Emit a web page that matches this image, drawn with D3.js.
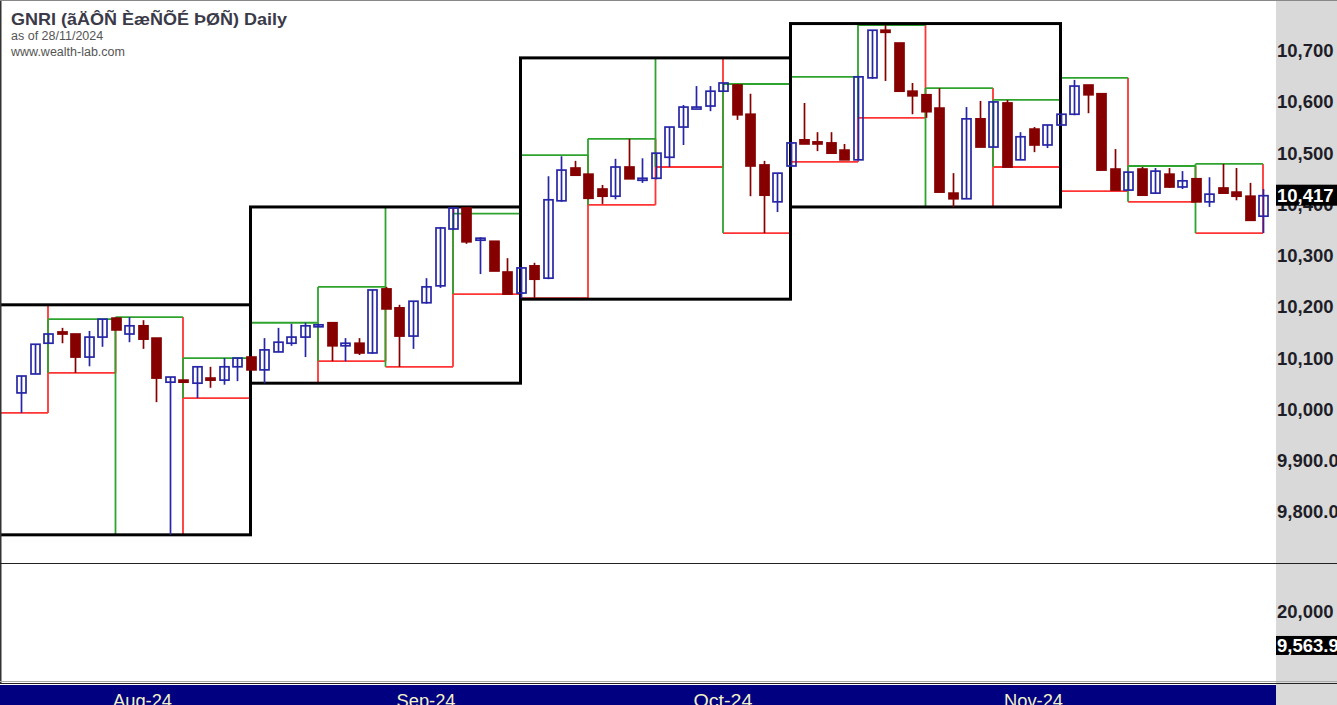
<!DOCTYPE html>
<html>
<head>
<meta charset="utf-8">
<script src="https://cdn.jsdelivr.net/npm/d3@7"></script>
<style>
  html, body { margin: 0; padding: 0; background: #ffffff; }
  svg { display: block; }
</style>
</head>
<body>
<div id="chart"></div>
<script>
// ---------------- DATA ----------------
const titleText = "GNRI (ãÄÔÑ ÈæÑÕÉ ÞØÑ) Daily";
const asOfText = "as of 28/11/2024";
const siteText = "www.wealth-lab.com";

// daily bars (index 0 .. 92, last bar = 28/11/2024)
const open  = [10032,10069,10129,10151,10147,10102,10141,10178,10147,10163,
               10139,10053,10057,10051,10061,10057,10083,10102,10077,10112,
               10129,10141,10162,10169,10124,10129,10110,10235,10198,10143,
               10208,10241,10352,10393,10332,10328,10268,10227,10280,10256,
               10407,10471,10459,10430,10416,10473,10449,10451,10492,10551,
               10588,10592,10621,10633,10576,10477,10405,10475,10526,10522,
               10520,10506,10487,10647,10740,10715,10621,10614,10588,10422,
               10411,10567,10512,10598,10487,10547,10516,10555,10576,10633,
               10616,10469,10428,10469,10422,10459,10434,10450,10405,10432,
               10424,10416,10377];
const high  = [10065,10127,10147,10159,10147,10153,10176,10178,10180,10174,
               10139,10063,10057,10083,10083,10100,10100,10102,10139,10159,
               10167,10169,10165,10169,10139,10139,10233,10239,10204,10211,
               10256,10356,10395,10395,10336,10328,10295,10276,10286,10455,
               10494,10485,10459,10438,10489,10528,10490,10500,10551,10594,
               10631,10631,10637,10635,10616,10485,10461,10520,10598,10541,
               10541,10518,10649,10740,10750,10715,10637,10614,10627,10461,
               10590,10602,10600,10604,10541,10551,10555,10576,10643,10633,
               10616,10508,10463,10473,10471,10471,10465,10450,10453,10479,
               10471,10442,10430];
const low   = [ 9993,10069,10129,10129,10071,10084,10122,10155,10131,10118,
               10014, 9755,10053,10022,10042,10048,10055,10077,10051,10112,
               10124,10102,10162,10094,10094,10106,10108,10196,10083,10118,
               10206,10237,10350,10323,10264,10270,10225,10217,10217,10254,
               10405,10457,10410,10401,10410,10450,10442,10449,10473,10516,
               10588,10582,10621,10565,10416,10344,10385,10475,10518,10504,
               10500,10487,10487,10645,10641,10621,10576,10569,10424,10395,
               10411,10512,10512,10473,10487,10502,10510,10555,10574,10578,
               10467,10428,10428,10418,10422,10432,10430,10405,10395,10422,
               10408,10369,10344];
const close = [10065,10127,10147,10147,10102,10141,10176,10155,10163,10137,
               10061,10063,10053,10083,10057,10083,10100,10077,10116,10131,
               10141,10163,10165,10124,10129,10110,10233,10196,10143,10211,
               10239,10354,10393,10327,10334,10270,10225,10276,10254,10409,
               10467,10457,10412,10416,10473,10450,10451,10500,10551,10590,
               10590,10621,10637,10575,10475,10418,10461,10520,10518,10518,
               10500,10487,10649,10740,10736,10621,10612,10581,10424,10411,
               10567,10512,10600,10473,10532,10516,10555,10576,10631,10614,
               10467,10428,10463,10418,10465,10434,10446,10405,10420,10422,
               10416,10369,10417];

// 5-bar (weekly) ranges: index of last bar, high, low
const weekEndBar = [2,7,12,17,22,27,32,37,42,47,52,57,62,67,72,77,82,87,92];
const weekHigh   = [10204,10176,10180,10100,10169,10239,10395,10382,10496,10528,
                    10686,10635,10649,10750,10627,10604,10647,10475,10479];
const weekLow    = [ 9993,10071, 9755,10022,10051,10094,10083,10225,10217,10399,
                    10473,10344,10483,10569,10395,10473,10426,10405,10344];

// 20-bar (monthly) ranges
const monthEndBar = [17,37,57,77];
const monthHigh   = [10204,10395,10686,10753];
const monthLow    = [ 9755,10051,10215,10395];

// price axis ticks
const priceTicks  = [10700,10600,10500,10400,10300,10200,10100,10000,9900,9800];
const priceLabels = ["10,700","10,600","10,500","10,400","10,300","10,200","10,100","10,000","9,900.0","9,800.0"];
const lastPrice = 10417, lastPriceLabel = "10,417";

// volume pane
const volumeTicks = [20000], volumeLabels = ["20,000"];
const lastVolume = 9563.9, lastVolumeLabel = "9,563.9";

// date axis
const monthLabels  = ["Aug-24","Sep-24","Oct-24","Nov-24"];
const monthTickBar = [9,30,52,75];

// ---------------- LAYOUT ----------------
const W = 1337, H = 705;
const plotW = 1276, priceH = 563;

const svg = d3.select("#chart").append("svg").attr("width", W).attr("height", H);
svg.append("rect").attr("width", W).attr("height", H).attr("fill", "#ffffff");
// right axis panel
svg.append("rect").attr("x", plotW).attr("y", 0).attr("width", W - plotW).attr("height", H).attr("fill", "#d9d9d9");

const x = d3.scaleLinear().domain([0, 92]).range([21, 1263]);
const y = d3.scaleLinear().domain([9700, 10799]).range([priceH, 0]);
const yv = d3.scaleLinear().domain([0, 20000]).range([678, 611]);

svg.append("defs").append("clipPath").attr("id", "clipP")
  .append("rect").attr("x", 0).attr("y", 0).attr("width", plotW).attr("height", priceH);

const pane = svg.append("g").attr("clip-path", "url(#clipP)");

const GREEN = "#2ea42e", RED = "#ff3434";
const LW = 1.8;
// weekly boxes
const gW = pane.append("g");
weekEndBar.forEach((e, i) => {
  const x0 = x(e - 5), x1 = x(e), yt = y(weekHigh[i]), yb = y(weekLow[i]);
  gW.append("line").attr("x1", x0).attr("x2", x1).attr("y1", yb).attr("y2", yb).attr("stroke", RED).attr("stroke-width", LW);
  gW.append("line").attr("x1", x1).attr("x2", x1).attr("y1", yt).attr("y2", yb).attr("stroke", RED).attr("stroke-width", LW);
  gW.append("line").attr("x1", x0).attr("x2", x1).attr("y1", yt).attr("y2", yt).attr("stroke", GREEN).attr("stroke-width", LW);
  gW.append("line").attr("x1", x0).attr("x2", x0).attr("y1", yt).attr("y2", yb).attr("stroke", GREEN).attr("stroke-width", LW);
});

// monthly boxes
pane.append("g").selectAll("rect").data(monthEndBar).join("rect")
  .attr("x", d => x(d - 20)).attr("width", d => x(d) - x(d - 20))
  .attr("y", (d, i) => y(monthHigh[i])).attr("height", (d, i) => y(monthLow[i]) - y(monthHigh[i]))
  .attr("fill", "none").attr("stroke", "#000").attr("stroke-width", 3);

// candles
const UP = "#2626a6", DN = "#860000";
const bw = 9;
const gC = pane.append("g");
open.forEach((o, i) => {
  const c = close[i], up = c >= o, col = up ? UP : DN;
  const cx = Math.round(x(i)) + 0.5;
  const top = y(Math.max(o, c)), bot = y(Math.min(o, c));
  gC.append("line").attr("x1", cx).attr("x2", cx).attr("y1", y(high[i])).attr("y2", y(low[i]))
    .attr("stroke", col).attr("stroke-width", 1.7);
  const hgt = Math.max(bot - top, 2);
  if (up) {
    gC.append("rect").attr("x", cx - bw / 2).attr("y", top).attr("width", bw).attr("height", hgt)
      .attr("fill", "#ffffff").attr("fill-opacity", 0).attr("stroke", col).attr("stroke-width", 1.7);
  } else {
    gC.append("rect").attr("x", cx - bw / 2 - 0.85).attr("y", top - 0.85).attr("width", bw + 1.7).attr("height", hgt + 1.7)
      .attr("fill", col);
  }
});

// frame
svg.append("line").attr("x1", 0.75).attr("x2", 0.75).attr("y1", 0).attr("y2", 683).attr("stroke", "#333").attr("stroke-width", 1.5);
svg.append("line").attr("x1", 0).attr("x2", W).attr("y1", 0.5).attr("y2", 0.5).attr("stroke", "#888").attr("stroke-width", 1);
svg.append("line").attr("x1", 0).attr("x2", W).attr("y1", 563.5).attr("y2", 563.5).attr("stroke", "#222").attr("stroke-width", 1.2);
svg.append("line").attr("x1", 0).attr("x2", W).attr("y1", 681.5).attr("y2", 681.5).attr("stroke", "#aaa").attr("stroke-width", 1);
svg.append("line").attr("x1", 0).attr("x2", W).attr("y1", 683.5).attr("y2", 683.5).attr("stroke", "#222").attr("stroke-width", 1.2);

// title
const tf = "'Liberation Sans', Arial, sans-serif";
svg.append("text").attr("x", 11).attr("y", 25).attr("font-family", tf).attr("font-weight", "bold")
  .attr("font-size", 16.5).attr("fill", "#3a3a48").attr("textLength", 276).attr("lengthAdjust", "spacingAndGlyphs").text(titleText);
svg.append("text").attr("x", 11).attr("y", 40).attr("font-family", tf).attr("font-size", 12.5).attr("fill", "#555").text(asOfText);
svg.append("text").attr("x", 11).attr("y", 56).attr("font-family", tf).attr("font-size", 12.5).attr("fill", "#555").text(siteText);

// price axis labels
const AF = 18.5;
const axG = svg.append("g").attr("font-family", tf).attr("font-weight", "bold").attr("font-size", AF);
axG.selectAll("text").data(priceTicks).join("text")
  .attr("x", 1277).attr("y", d => y(d) + 6.5).attr("fill", "#1e1e28").text((d, i) => priceLabels[i]);
svg.append("rect").attr("x", plotW).attr("y", y(lastPrice) - 11).attr("width", W - plotW).attr("height", 21).attr("fill", "#000");
svg.append("text").attr("x", 1277).attr("y", y(lastPrice) + 6.5).attr("font-family", tf).attr("font-weight", "bold")
  .attr("font-size", AF).attr("fill", "#fff").text(lastPriceLabel);

// volume axis labels
svg.append("g").attr("font-family", tf).attr("font-weight", "bold").attr("font-size", AF)
  .selectAll("text").data(volumeTicks).join("text")
  .attr("x", 1277).attr("y", d => yv(d) + 6.5).attr("fill", "#1e1e28").text((d, i) => volumeLabels[i]);
svg.append("rect").attr("x", plotW).attr("y", yv(lastVolume) - 10).attr("width", W - plotW).attr("height", 19).attr("fill", "#000");
svg.append("text").attr("x", 1277).attr("y", yv(lastVolume) + 6.5).attr("font-family", tf).attr("font-weight", "bold")
  .attr("font-size", AF).attr("fill", "#fff").text(lastVolumeLabel);

// date bar
svg.append("rect").attr("x", 0).attr("y", 685).attr("width", plotW).attr("height", 20).attr("fill", "#000080");
svg.append("g").selectAll("text").data(monthTickBar).join("text")
  .attr("x", d => x(d)).attr("y", 706.5).attr("text-anchor", "middle")
  .attr("font-family", tf).attr("font-size", 18).attr("fill", "#f2f2c8")
  .attr("textLength", 59).attr("lengthAdjust", "spacingAndGlyphs")
  .text((d, i) => monthLabels[i]);
</script>
</body>
</html>
